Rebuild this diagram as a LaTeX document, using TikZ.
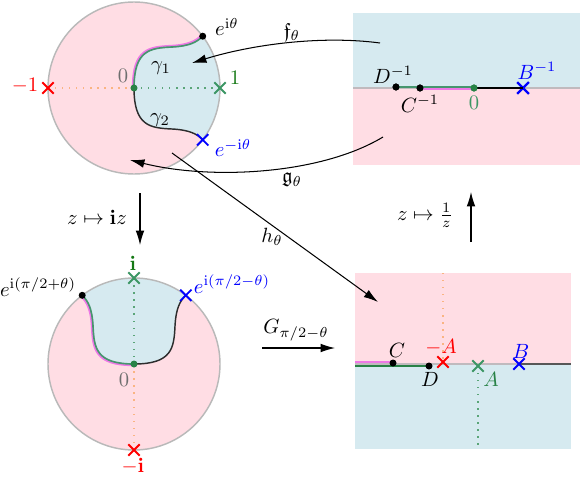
\documentclass[tikz,border=0pt]{standalone}
\usepackage{amsmath,amssymb}
\usetikzlibrary{arrows.meta,shapes.misc}
\definecolor{pinkfill}{RGB}{255,221,228}
\definecolor{bluefill}{RGB}{214,234,240}
\definecolor{rimgray}{RGB}{185,185,185}
\definecolor{axgray}{RGB}{192,186,190}
\definecolor{xgreen}{RGB}{60,150,100}
\definecolor{lblgreen}{RGB}{20,120,20}
\definecolor{dotgreen}{RGB}{40,130,70}
\definecolor{curvepink}{RGB}{238,120,230}
\definecolor{curvegreen}{RGB}{70,150,110}
\definecolor{dotorange}{RGB}{250,180,130}
\definecolor{dotgreenl}{RGB}{90,165,120}
\definecolor{zerogray}{RGB}{110,110,110}
\definecolor{darkcurve}{RGB}{45,45,45}
\tikzset{
 xm/.style={cross out, draw, line width=0.9pt, minimum size=4.6pt, inner sep=0pt},
 blackdot/.style={circle, fill=black, inner sep=0pt, minimum size=3.4pt},
 greendot/.style={circle, fill=dotgreen, inner sep=0pt, minimum size=3.4pt},
 dotline/.style={line width=0.8pt, dash pattern=on 0.7pt off 2.7pt},
 mapto/.style={-{Latex[length=7pt,width=4.2pt]}, line width=0.5pt},
 lbl/.style={inner sep=0pt},
}
\newcommand\Rad{41.71pt}
\newcommand\diskgeom[1]{%
 \fill[pinkfill] (0,0) circle[radius=\Rad];
 \fill[bluefill] (0,0) .. controls (0,-38) and (16,-40) .. (38,-41) .. controls (56,-42) and (63,-46) .. (68.7,-51.8)
   -- plot[domain=-37:37,samples=40] ({86*cos(\x)},{86*sin(\x)})
   .. controls (63,46) and (56,42) .. (38,41) .. controls (16,40) and (0,38) .. (0,0) -- cycle;
 \draw[rimgray, line width=0.7pt] (0,0) circle[radius=\Rad];
 \draw[dotline, dotorange] (-86,0) -- (0,0);
 \draw[dotline, dotgreenl] (0,0) -- (86,0);
 \draw[curvepink, line width=1.3pt, shift={(-0.8,-0.8)}] (0,0) .. controls (0,-38) and (16,-40) .. (38,-41) .. controls (56,-42) and (63,-46) .. (68.7,-51.8);
 \draw[curvegreen, line width=0.8pt] (0,0) .. controls (0,-38) and (16,-40) .. (38,-41) .. controls (56,-42) and (63,-46) .. (68.7,-51.8);
 \draw[darkcurve, line width=0.7pt] (0,0) .. controls (0,38) and (16,40) .. (38,41) .. controls (56,42) and (63,46) .. (68.7,51.8);
 \node[xm, red] (#1m) at (-86,0) {};
 \node[xm, xgreen] (#1p) at (86,0) {};
 \node[xm, blue] (#1b) at (68.7,51.8) {};
 \node[blackdot] (#1e) at (68.7,-51.8) {};
 \node[greendot] (#1o) at (0,0) {};
}
\begin{document}
\begin{tikzpicture}[x=0.485pt,y=-0.485pt]
\useasboundingbox (0,0) rectangle (581,477);
% ---------- top-left disk
\begin{scope}[shift={(134,88)}]
 \diskgeom{a}
\end{scope}
\node[lbl, red] (lm1) at (25,86) {$-1$};
\node[lbl, lblgreen] (lp1) at (235,78) {$1$};
\node[lbl, zerogray] (l0a) at (123,76) {$0$};
\node[lbl] (lg1) at (161,68) {$\gamma_1$};
\node[lbl] (lg2) at (160,120) {$\gamma_2$};
\node[lbl] (leit) at (227,27) {$e^{\mathrm{i}\theta}$};
\node[lbl, blue] (lemit) at (233,148) {$e^{-\mathrm{i}\theta}$};
% ---------- bottom-left disk
\begin{scope}[shift={(134,364)}, rotate=90]
 \diskgeom{b}
\end{scope}
\node[lbl, lblgreen] (li) at (133,263) {$\mathbf{i}$};
\node[lbl, red] (lmi) at (133,466) {$-\mathbf{i}$};
\node[lbl, zerogray] (l0b) at (124,380) {$0$};
\node[lbl] (lep) at (38,287) {$e^{\mathrm{i}(\pi/2+\theta)}$};
\node[lbl, blue] (lem) at (232,284) {$e^{\mathrm{i}(\pi/2-\theta)}$};
% ---------- top-right half planes
\fill[bluefill] (353,13) rectangle (580,88);
\fill[pinkfill] (353,88) rectangle (580,165);
\draw[axgray, line width=1.4pt] (353,88) -- (580,88);
\node[blackdot] (trD) at (396,87) {};
\node[blackdot] (trC) at (420,88) {};
\node[greendot] (trO) at (474,88) {};
\node[xm, blue, line width=1.1pt] (trB) at (523,88) {};
\draw[curvepink, line width=1pt] (420,89.3) -- (474,89.3);
\draw[curvegreen, line width=0.8pt] (trD.center) -- (474,87);
\draw[black, line width=1.4pt] (trO.center) -- (trB.center);
\node[blackdot] at (trD) {};
\node[blackdot] at (trC) {};
\node[greendot] at (trO) {};
\node[lbl] (lD1) at (393,75) {$D^{-1}$};
\node[lbl] (lC1) at (420,104) {$C^{-1}$};
\node[lbl, xgreen] (lO1) at (474,103) {$0$};
\node[lbl, blue] (lB1) at (537,71) {$B^{-1}$};
% ---------- bottom-right half planes
\fill[pinkfill] (355,273) rectangle (571,364);
\fill[bluefill] (355,364) rectangle (571,449);
\draw[axgray, line width=1.4pt] (355,364) -- (571,364);
\draw[dotline, dotorange] (443,273) -- (443,362);
\draw[dotline, dotgreenl] (478,366) -- (478,449);
\draw[curvepink, line width=0.9pt] (355,362) -- (393,362);
\draw[dotgreen, line width=1pt] (355,366) -- (429,366);
\draw[darkcurve!80, line width=0.8pt] (519,364) -- (571,364);
\node[blackdot] (brC) at (393,363) {};
\node[blackdot] (brD) at (429,366) {};
\node[xm, red] (brmA) at (443,362) {};
\node[xm, xgreen] (brA) at (478,366) {};
\node[xm, blue] (brB) at (519,364) {};
\node[lbl] (lC) at (397,350) {$C$};
\node[lbl, red] (lmA) at (441,347) {$-A$};
\node[lbl] (lD) at (430,379) {$D$};
\node[lbl, dotgreen] (lA) at (491,379) {$A$};
\node[lbl, blue] (lB) at (521,351) {$B$};
% ---------- maps
\coordinate (fS) at (380,43); \coordinate (fE) at (192,63);
\draw[mapto] (fS) .. controls (320,35) and (250,45) .. (fE);
\node[lbl] (lf) at (292,32) {$\mathfrak{f}_\theta$};
\coordinate (gS) at (383,137); \coordinate (gE) at (130,160);
\draw[mapto] (gS) .. controls (320,175) and (210,180) .. (gE);
\node[lbl] (lgm) at (292,180) {$\mathfrak{g}_\theta$};
\coordinate (hS) at (172,153); \coordinate (hE) at (378,302);
\draw[mapto] (hS) -- (hE);
\node[lbl] (lh) at (272,237) {$h_\theta$};
\coordinate (iS) at (140,193); \coordinate (iE) at (140,245);
\draw[mapto] (iS) -- (iE);
\node[lbl] (liz) at (97,217) {$z\mapsto \mathbf{i}z$};
\coordinate (rS) at (471,242); \coordinate (rE) at (471,192);
\draw[mapto] (rS) -- (rE);
\node[lbl] (lrz) at (425,215) {$z\mapsto \frac{1}{z}$};
\coordinate (GS) at (262,348); \coordinate (GE) at (335,348);
\draw[mapto] (GS) -- (GE);
\node[lbl] (lG) at (296,330) {$G_{\pi/2-\theta}$};
\end{tikzpicture}
\end{document}
